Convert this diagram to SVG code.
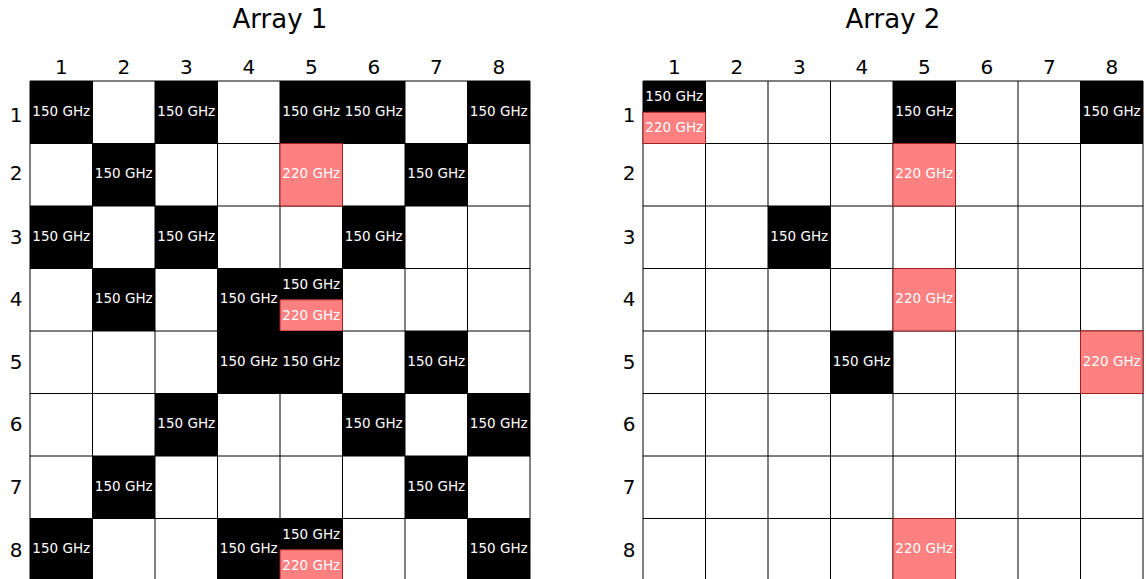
<svg xmlns="http://www.w3.org/2000/svg" width="1146" height="579" viewBox="0 0 1146 579">
<style>
text{font-family:"DejaVu Sans","Liberation Sans",sans-serif;fill:#000}
.t{font-size:26px;text-anchor:middle}
.lbl{font-size:20px;text-anchor:middle}
.c text{font-size:13.5px;fill:#fff;text-anchor:middle}
.b{fill:#000}
.r{fill:#ff8080;stroke:#a02020;stroke-width:1}
.g{stroke:#000;stroke-width:1;fill:none}
</style>
<rect width="1146" height="579" fill="#fff"/>
<text class="t" x="280" y="28">Array 1</text>
<text class="t" x="893" y="28">Array 2</text>
<g id="labels1">
<text class="lbl" x="61.25" y="74">1</text><text class="lbl" x="123.75" y="74">2</text><text class="lbl" x="186.25" y="74">3</text><text class="lbl" x="248.75" y="74">4</text><text class="lbl" x="311.25" y="74">5</text><text class="lbl" x="373.75" y="74">6</text><text class="lbl" x="436.25" y="74">7</text><text class="lbl" x="498.75" y="74">8</text>
<text class="lbl" x="16" y="122">1</text><text class="lbl" x="16" y="180">2</text><text class="lbl" x="16" y="244">3</text><text class="lbl" x="16" y="306">4</text><text class="lbl" x="16" y="369">5</text><text class="lbl" x="16" y="431">6</text><text class="lbl" x="16" y="494">7</text><text class="lbl" x="16" y="557">8</text>
</g>
<g id="labels2">
<text class="lbl" x="674.25" y="74">1</text><text class="lbl" x="736.75" y="74">2</text><text class="lbl" x="799.25" y="74">3</text><text class="lbl" x="861.75" y="74">4</text><text class="lbl" x="924.25" y="74">5</text><text class="lbl" x="986.75" y="74">6</text><text class="lbl" x="1049.25" y="74">7</text><text class="lbl" x="1111.75" y="74">8</text>
<text class="lbl" x="629" y="122">1</text><text class="lbl" x="629" y="180">2</text><text class="lbl" x="629" y="244">3</text><text class="lbl" x="629" y="306">4</text><text class="lbl" x="629" y="369">5</text><text class="lbl" x="629" y="431">6</text><text class="lbl" x="629" y="494">7</text><text class="lbl" x="629" y="557">8</text>
</g>
<g id="grid1" class="g">
<path d="M30,81V581M92.5,81V581M155,81V581M217.5,81V581M280,81V581M342.5,81V581M405,81V581M467.5,81V581M530,81V581"/>
<path d="M30,81H530M30,143.5H530M30,206H530M30,268.5H530M30,331H530M30,393.5H530M30,456H530M30,518.5H530"/>
</g>
<g id="grid2" class="g">
<path d="M643,81V581M705.5,81V581M768,81V581M830.5,81V581M893,81V581M955.5,81V581M1018,81V581M1080.5,81V581M1143,81V581"/>
<path d="M643,81H1143M643,143.5H1143M643,206H1143M643,268.5H1143M643,331H1143M643,393.5H1143M643,456H1143M643,518.5H1143"/>
</g>
<g id="array1" class="c">
<rect class="b" x="30" y="81" width="62.5" height="62.5"/><text x="61.25" y="115.5">150 GHz</text>
<rect class="b" x="155" y="81" width="62.5" height="62.5"/><text x="186.25" y="115.5">150 GHz</text>
<rect class="b" x="280" y="81" width="62.5" height="62.5"/><text x="311.25" y="115.5">150 GHz</text>
<rect class="b" x="342.5" y="81" width="62.5" height="62.5"/><text x="373.75" y="115.5">150 GHz</text>
<rect class="b" x="467.5" y="81" width="62.5" height="62.5"/><text x="498.75" y="115.5">150 GHz</text>
<rect class="b" x="92.5" y="143.5" width="62.5" height="62.5"/><text x="123.75" y="178">150 GHz</text>
<rect class="r" x="280" y="143.5" width="62.5" height="62.5"/><text x="311.25" y="178">220 GHz</text>
<rect class="b" x="405" y="143.5" width="62.5" height="62.5"/><text x="436.25" y="178">150 GHz</text>
<rect class="b" x="30" y="206" width="62.5" height="62.5"/><text x="61.25" y="240.5">150 GHz</text>
<rect class="b" x="155" y="206" width="62.5" height="62.5"/><text x="186.25" y="240.5">150 GHz</text>
<rect class="b" x="342.5" y="206" width="62.5" height="62.5"/><text x="373.75" y="240.5">150 GHz</text>
<rect class="b" x="92.5" y="268.5" width="62.5" height="62.5"/><text x="123.75" y="303">150 GHz</text>
<rect class="b" x="217.5" y="268.5" width="62.5" height="62.5"/><text x="248.75" y="303">150 GHz</text>
<rect class="b" x="280" y="268.5" width="62.5" height="31.25"/><text x="311.25" y="288.5">150 GHz</text>
<rect class="r" x="280" y="299.75" width="62.5" height="31.25"/><text x="311.25" y="319.5">220 GHz</text>
<rect class="b" x="217.5" y="331" width="62.5" height="62.5"/><text x="248.75" y="365.5">150 GHz</text>
<rect class="b" x="280" y="331" width="62.5" height="62.5"/><text x="311.25" y="365.5">150 GHz</text>
<rect class="b" x="405" y="331" width="62.5" height="62.5"/><text x="436.25" y="365.5">150 GHz</text>
<rect class="b" x="155" y="393.5" width="62.5" height="62.5"/><text x="186.25" y="428">150 GHz</text>
<rect class="b" x="342.5" y="393.5" width="62.5" height="62.5"/><text x="373.75" y="428">150 GHz</text>
<rect class="b" x="467.5" y="393.5" width="62.5" height="62.5"/><text x="498.75" y="428">150 GHz</text>
<rect class="b" x="92.5" y="456" width="62.5" height="62.5"/><text x="123.75" y="490.5">150 GHz</text>
<rect class="b" x="405" y="456" width="62.5" height="62.5"/><text x="436.25" y="490.5">150 GHz</text>
<rect class="b" x="30" y="518.5" width="62.5" height="62.5"/><text x="61.25" y="553">150 GHz</text>
<rect class="b" x="217.5" y="518.5" width="62.5" height="62.5"/><text x="248.75" y="553">150 GHz</text>
<rect class="b" x="280" y="518.5" width="62.5" height="31.25"/><text x="311.25" y="538.5">150 GHz</text>
<rect class="r" x="280" y="549.75" width="62.5" height="31.25"/><text x="311.25" y="569.5">220 GHz</text>
<rect class="b" x="467.5" y="518.5" width="62.5" height="62.5"/><text x="498.75" y="553">150 GHz</text>
</g>
<g id="array2" class="c">
<rect class="b" x="643" y="81" width="62.5" height="31.25"/><text x="674.25" y="101">150 GHz</text>
<rect class="r" x="643" y="112.25" width="62.5" height="31.25"/><text x="674.25" y="132">220 GHz</text>
<rect class="b" x="893" y="81" width="62.5" height="62.5"/><text x="924.25" y="115.5">150 GHz</text>
<rect class="b" x="1080.5" y="81" width="62.5" height="62.5"/><text x="1111.75" y="115.5">150 GHz</text>
<rect class="r" x="893" y="143.5" width="62.5" height="62.5"/><text x="924.25" y="178">220 GHz</text>
<rect class="b" x="768" y="206" width="62.5" height="62.5"/><text x="799.25" y="240.5">150 GHz</text>
<rect class="r" x="893" y="268.5" width="62.5" height="62.5"/><text x="924.25" y="303">220 GHz</text>
<rect class="b" x="830.5" y="331" width="62.5" height="62.5"/><text x="861.75" y="365.5">150 GHz</text>
<rect class="r" x="1080.5" y="331" width="62.5" height="62.5"/><text x="1111.75" y="365.5">220 GHz</text>
<rect class="r" x="893" y="518.5" width="62.5" height="62.5"/><text x="924.25" y="553">220 GHz</text>
</g>
</svg>
